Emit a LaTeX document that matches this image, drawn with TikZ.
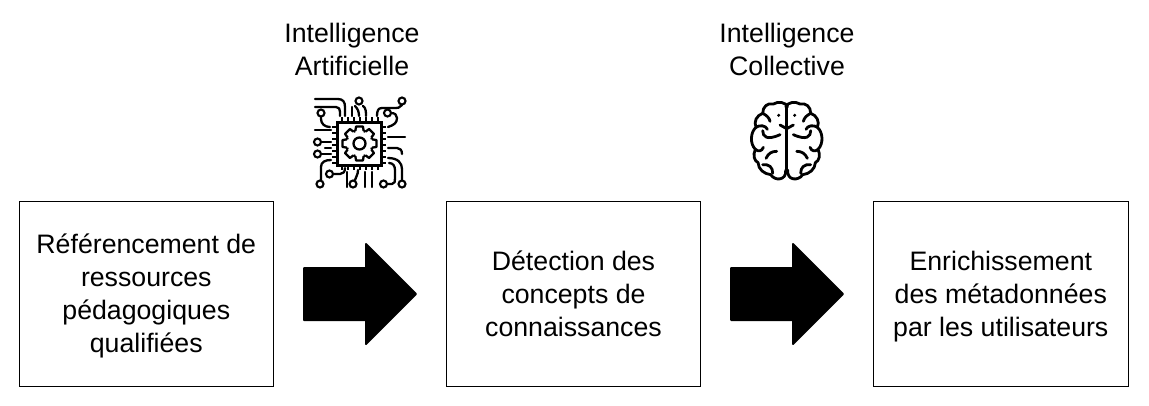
\documentclass[tikz,border=0pt]{standalone}
\usepackage{fontspec}
\setmainfont{Liberation Sans}
\usetikzlibrary{shapes.arrows}

\newcommand{\firstline}{\rule{0pt}{29pt}}

\tikzset{
  stepbox/.style={draw=black,line width=1pt,minimum width=254.5pt,minimum height=185pt,align=center,font=\fontsize{26.7}{33}\selectfont},
  toplabel/.style={align=center,font=\fontsize{26.7}{33}\selectfont},
  bigarrow/.style={single arrow,fill=black,draw=black,line width=2pt,line join=round,minimum height=112pt,single arrow head extend=24pt,inner xsep=0pt,inner ysep=25pt,anchor=center},
  trace/.style={line width=2.3pt,line cap=round,line join=round},
  ring/.style={line width=2.1pt},
  brainline/.style={line width=2.8pt,line cap=round,line join=round}
}

\begin{document}
\begin{tikzpicture}[x=1pt,y=-1pt]
  \useasboundingbox (0,0) rectangle (1149,405);

  \node[stepbox] (sources) at (146.3,293.5) {\firstline Référencement de\\ressources\\pédagogiques\\qualifiées\strut};
  \node[stepbox] (concepts) at (573.5,293.5) {\firstline Détection des\\concepts de\\connaissances\strut};
  \node[stepbox] (metadata) at (1000.8,293.5) {\firstline Enrichissement\\des métadonnées\\par les utilisateurs\strut};

  \node[bigarrow] (arrowAI) at (347,294) {};
  \node[bigarrow] (arrowCI) at (774,294) {};

  \node[toplabel] (labelAI) at (352,49) {\firstline Intelligence\\Artificielle\strut};
  \node[toplabel] (labelCI) at (787,49) {\firstline Intelligence\\Collective\strut};

  % chip
  \draw[line width=3pt] (337,122) rectangle (381,165);
  \foreach \p in {342,348,...,378} {
    \draw[line width=2pt] (\p,117) -- (\p,122);
    \draw[line width=2pt] (\p,165) -- (\p,170);
  }
  \foreach \p in {127,133,...,163} {
    \draw[line width=2pt] (332,\p) -- (337,\p);
    \draw[line width=2pt] (381,\p) -- (386,\p);
  }
  \foreach \a in {0,45,...,315} {
    \draw[line width=2.3pt,line join=round,shift={(359.5,143.5)},rotate=\a]
      (12.5,-4.2) -- (17,-3.4) -- (17,3.4) -- (12.5,4.2);
    \draw[line width=2.3pt,shift={(359.5,143.5)},rotate=\a]
      (12.5,4.2) arc[start angle=18.6,end angle=26.4,radius=13.2];
  }
  \draw[line width=2.3pt] (359.5,143.5) circle[radius=6];

  % traces
  \draw[trace] (315,99) -- (338,99) .. controls (343,99) and (345,102) .. (345,107) -- (345,116);
  \draw[trace] (315,107) -- (336,107) .. controls (339,107) and (340,109) .. (340,112) -- (340,116);
  \draw[trace] (321,117) -- (321,119) .. controls (321,124) and (325,127) .. (330,127);
  \draw[ring] (321,113) circle[radius=3.5];
  \draw[trace] (315,130) -- (331,130);
  \draw[trace] (321,142) -- (331,142);
  \draw[ring] (317.5,142) circle[radius=3.5];
  \draw[trace] (325,148) -- (331,148);
  \draw[trace] (321,154) -- (331,154);
  \draw[ring] (317.5,154) circle[radius=3.5];
  \draw[trace] (321,180) -- (321,167) .. controls (321,162) and (325,160) .. (331,160);
  \draw[ring] (320,184) circle[radius=3.5];
  \draw[trace] (333,174) -- (340,174) .. controls (343,174) and (345,172) .. (345,168);
  \draw[ring] (329.5,174) circle[radius=3.5];
  \draw[trace] (347,187) -- (347,172);
  \draw[trace] (355,180) .. controls (356,176) and (358,175) .. (358,170);
  \draw[ring] (353,184) circle[radius=3.5];
  \draw[trace] (365,172) -- (365,187);
  \draw[trace] (372,172) -- (372,187);
  \draw[trace] (387,184) -- (392,184) .. controls (395,184) and (395,181) .. (395,178) -- (395,170) .. controls (395,166) and (393,163) .. (389,163);
  \draw[ring] (383.5,184) circle[radius=3.5];
  \draw[trace] (402,180) -- (402,169) .. controls (402,163) and (398,158) .. (388,158);
  \draw[ring] (402,184) circle[radius=3.5];
  \draw[trace] (388,148) -- (397,148) .. controls (400,148) and (402,150) .. (402,154);
  \draw[trace] (388,137) -- (405,137);
  \draw[trace] (388,127) .. controls (394,125) and (397,123) .. (397,118) .. controls (397,115) and (395,113) .. (391,113);
  \draw[ring] (387.5,113) circle[radius=3.5];
  \draw[trace] (402,105) .. controls (400,108) and (398,108) .. (393,108) -- (382,108) .. controls (378,108) and (377,111) .. (377,116);
  \draw[ring] (402,101) circle[radius=3.5];
  \draw[trace] (352,107) -- (352,116);
  \draw[trace] (355,106) .. controls (358,109) and (359,112) .. (359,116);
  \draw[trace] (363,106) .. controls (366,108) and (366,112) .. (366,116);
  \draw[ring] (359,101) circle[radius=3.5];

  % brain
  \foreach \side in {1,-1} {
    \begin{scope}[shift={(786.7,90)},x=\side*0.3333pt,y=-0.3333pt]
      \draw[brainline] (3,50) .. controls (-2,38) and (-25,32) .. (-40,42) .. controls (-58,38) and (-72,50) .. (-72,70)
        .. controls (-90,76) and (-100,95) .. (-92,112) .. controls (-108,125) and (-112,160) .. (-94,178)
        .. controls (-102,195) and (-98,212) .. (-86,218) .. controls (-85,238) and (-68,252) .. (-48,254)
        .. controls (-35,274) and (0,272) .. (-3,240);
      \draw[brainline] (-72,70) .. controls (-60,76) and (-52,84) .. (-50,94);
      \draw[brainline] (-92,112) .. controls (-82,104) and (-62,106) .. (-58,118);
      \draw[brainline] (-72,122) .. controls (-72,140) and (-60,152) .. (-20,134);
      \draw[brainline] (-94,178) .. controls (-86,185) and (-75,185) .. (-70,172);
      \draw[brainline] (-62,205) .. controls (-55,190) and (-45,184) .. (-30,184);
      \draw[brainline] (-72,224) .. controls (-52,222) and (-42,232) .. (-42,250);
      \draw[brainline] (-20,105) -- (0,116);
      \fill (-24,76) circle[radius=5];
      \draw[brainline] (0,50) -- (0,240);
    \end{scope}
  }
\end{tikzpicture}
\end{document}
